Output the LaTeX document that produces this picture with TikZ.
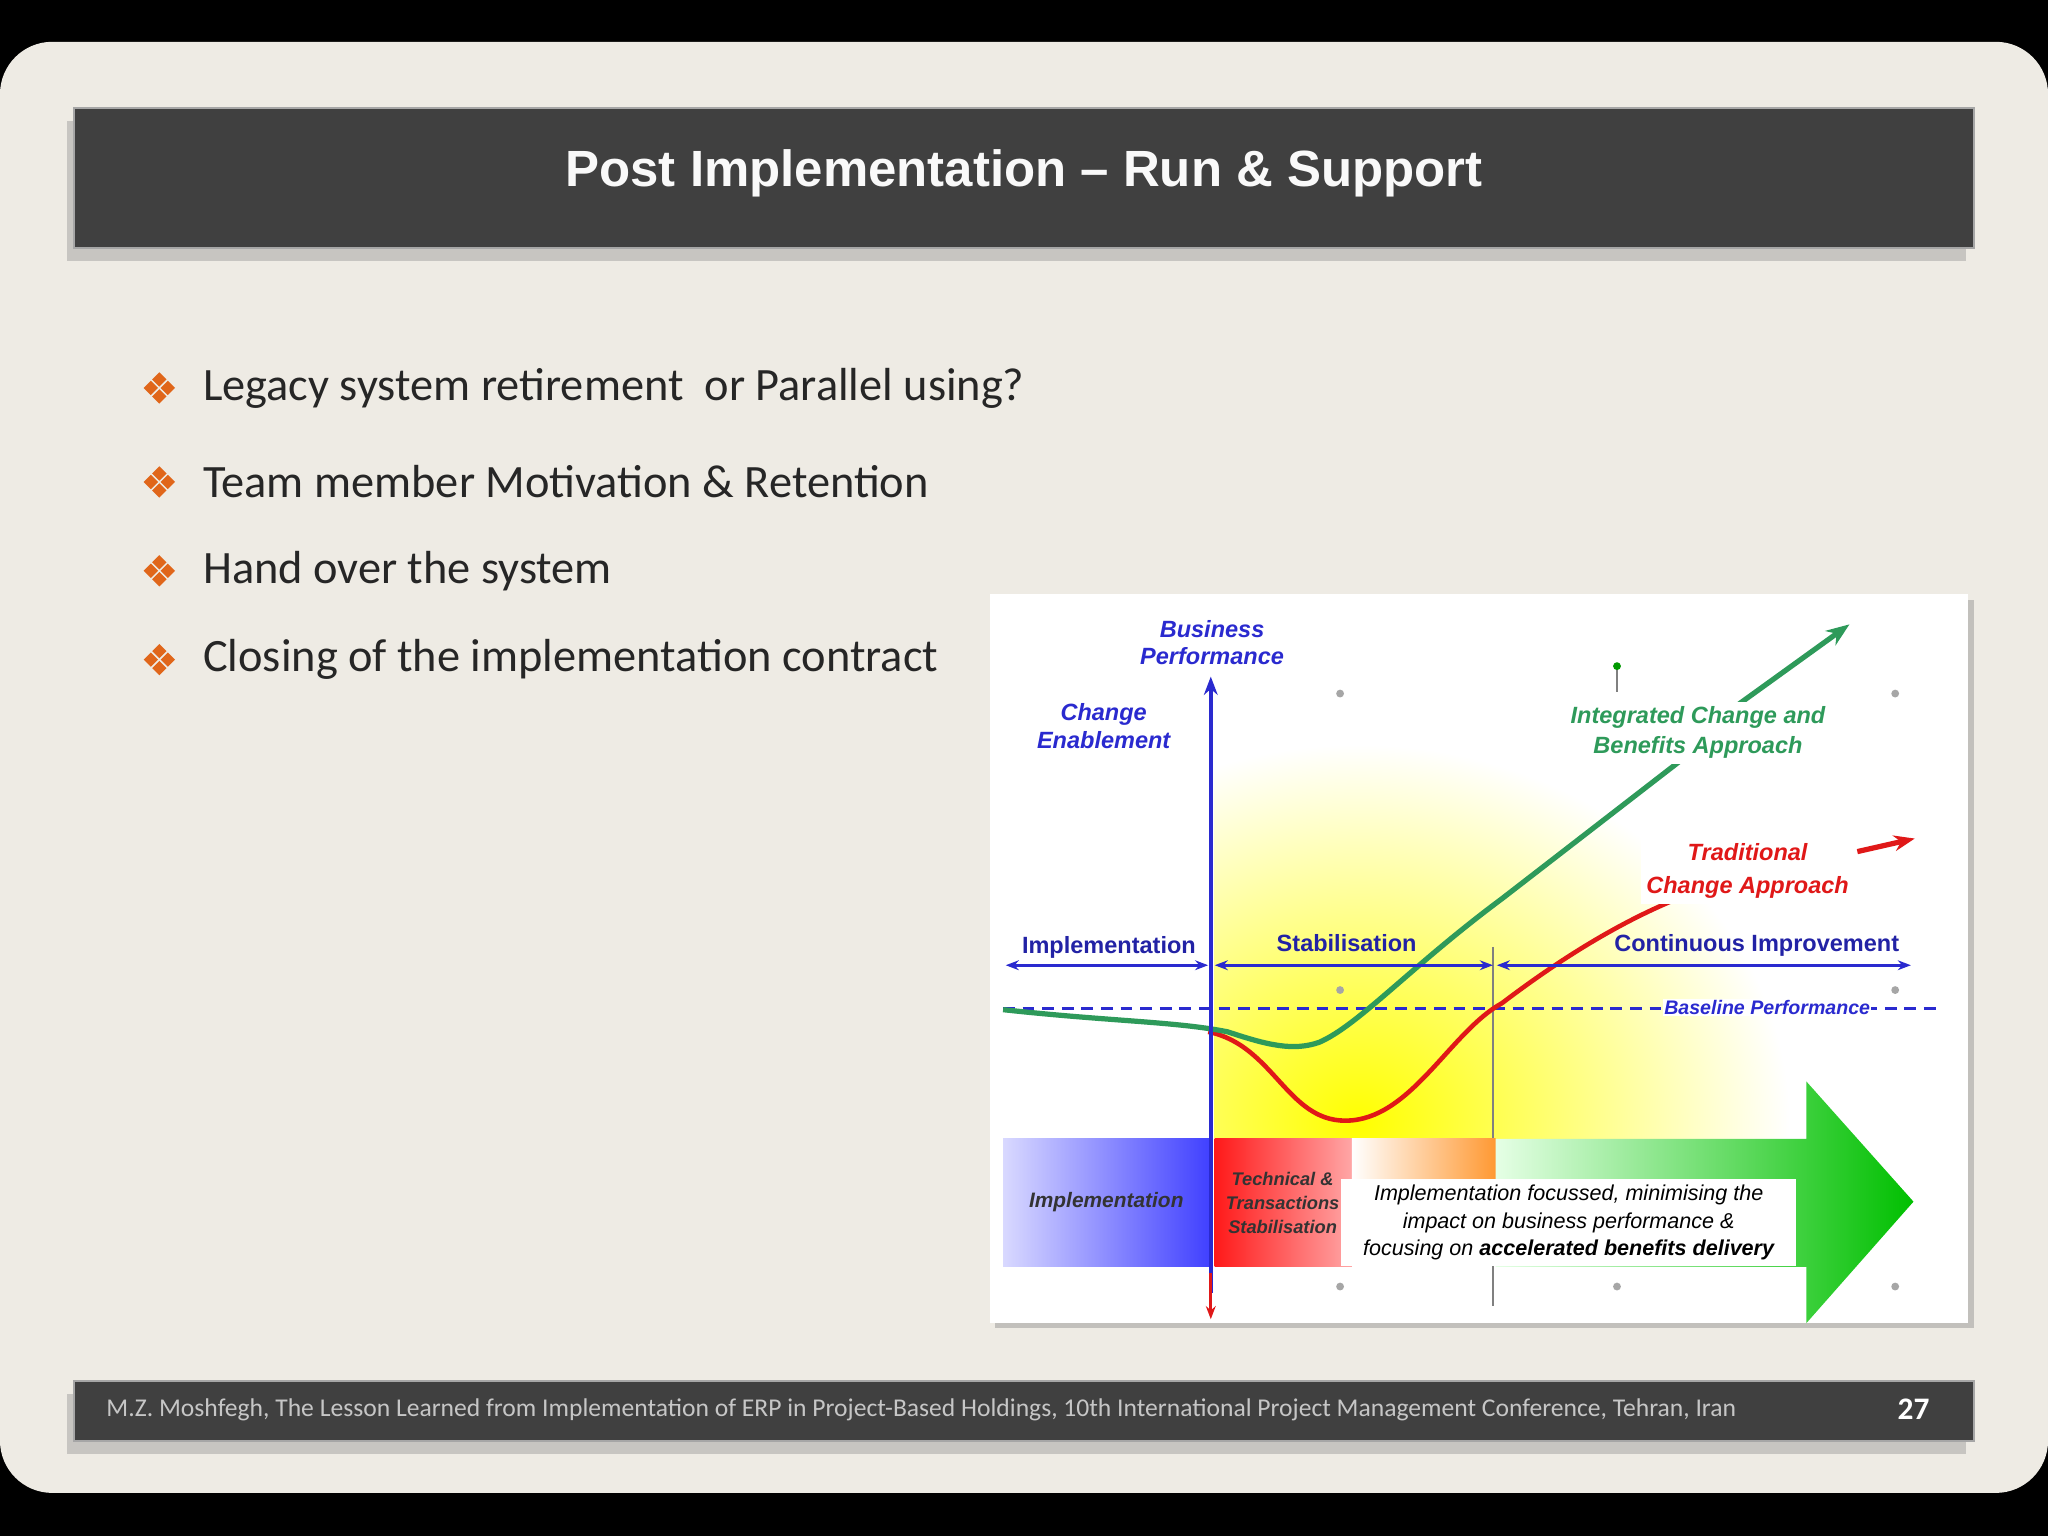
\documentclass[tikz,border=0pt]{standalone}
\usepackage{fontspec}
\setmainfont{Carlito}
\newfontfamily\arialf{Liberation Sans}
\usetikzlibrary{arrows.meta,shadows}
\definecolor{bg}{HTML}{EEEBE4}
\definecolor{bar}{HTML}{404040}
\definecolor{bul}{HTML}{E0661A}
\definecolor{cblue}{HTML}{2A2ACF}
\definecolor{cgreen}{HTML}{2E9A5A}
\definecolor{cred}{HTML}{E01818}
\tikzset{
 barbox/.style={fill=bar,draw=gray!70,line width=1.5pt,drop shadow={shadow xshift=-6pt,shadow yshift=-10pt,opacity=0.35}},
 bullettxt/.style={anchor=west,font=\fontsize{35.5}{40}\selectfont,text=black!85},
 blab/.style={font=\arialf\bfseries\itshape\fontsize{18}{21}\selectfont,text=cblue,align=center},
 stab/.style={font=\arialf\bfseries\fontsize{18}{20}\selectfont,text=cblue!80!black},
 dimarrow/.style={cblue,line width=2pt,{Stealth[length=10pt]}-{Stealth[length=10pt]}},
}
\newcommand{\bulsym}[1]{%
 \foreach \dx/\dy in {0/-6.5,0/6.5,-6.5/0,6.5/0}{\fill[bul] ([shift={(\dx,\dy)}]#1) +(0,-5.5) -- +(5.5,0) -- +(0,5.5) -- +(-5.5,0) -- cycle;}}
\begin{document}
\begin{tikzpicture}[x=1pt,y=-1pt]
\fill[black] (0,0) rectangle (1568,1176);
\fill[bg,rounded corners=40pt] (0,32) rectangle (1568,1143);
% title
\node[barbox,minimum width=1454pt,minimum height=107pt,inner sep=0pt] (title) at (784,136.5) {};
\node[font=\arialf\bfseries\fontsize{39}{42}\selectfont,text=white!95!gray] (tt) at (784,133) {Post Implementation – Run \& Support};
% bullets
\foreach \y/\t [count=\i] in {297/{Legacy system retirement\ \ or Parallel using?},369/{Team member Motivation \& Retention},437/{Hand over the system},505/{Closing of the implementation contract}}{
 \coordinate (b\i) at (122,\y);
 \bulsym{b\i}
 \node[bullettxt] (bt\i) at (152,\y) {\t};
}
% chart frame
\node[fill=white,minimum width=749pt,minimum height=558pt,inner sep=0pt,drop shadow={shadow xshift=4pt,shadow yshift=-4pt,opacity=0.4}] (chart) at (1132.5,734) {};
% yellow glow
\begin{scope}
\clip (930,560) rectangle (1500,872);
\shade[inner color=yellow,outer color=white] (1040,860) ellipse (330 and 290);
\end{scope}
% vertical divider
\draw[gray,line width=1pt] (1143,725) -- (1143,1000);
% bottom band
\shade[left color=blue!15,right color=blue!75] (768,872) rectangle (927,970);
\node[font=\arialf\bfseries\itshape\fontsize{16}{18}\selectfont,text=black!80] (impl2) at (847,920) {Implementation};
\shade[left color=red!90,right color=red!35] (930,872) rectangle (1035,970);
\shade[left color=white,right color=orange!80] (1035,872) rectangle (1145,905);
\shade[left color=green!10,right color=green!75!black] (1145,872) -- (1383,872) -- (1383,828) -- (1465,920) -- (1383,1013) -- (1383,970) -- (1145,970) -- cycle;
\node[fill=white,font=\arialf\itshape\fontsize{16.5}{21}\selectfont,align=center,minimum width=348pt,minimum height=67pt,inner sep=1pt] (note) at (1201,936) {Implementation focussed, minimising the\\impact on business performance \&\\focusing on \textbf{accelerated benefits delivery}};
\begin{scope}
\clip (930,880) rectangle (1027,970);
\node[font=\arialf\bfseries\itshape\fontsize{14}{18}\selectfont,align=center,text=black!80] (tech) at (982,921) {Technical \&\\Transactions\\Stabilisation};
\end{scope}
% baseline
\draw[cblue,dashed,line width=2pt,dash pattern=on 9pt off 6pt] (768,772) -- (1485,772);
\node[fill=white,inner sep=1pt,font=\arialf\bfseries\itshape\fontsize{15}{16}\selectfont,text=cblue] (base) at (1353,771) {Baseline Performance};
% curves
\draw[cred,line width=3.5pt] (925,790) .. controls (975,800) and (985,858) .. (1030,858) .. controls (1080,858) and (1110,790) .. (1150,768) .. controls (1200,730) and (1250,700) .. (1300,682);
\draw[cred,line width=4pt,-{Stealth[length=16pt]}] (1422,652) -- (1466,642);
\draw[cgreen,line width=4pt] (768,773) .. controls (850,782) and (900,782) .. (940,790) .. controls (970,800) and (990,805) .. (1010,798) .. controls (1040,785) and (1080,740) .. (1150,688) -- (1300,572);
\draw[cgreen,line width=4pt,-{Stealth[length=18pt]}] (1330,540) -- (1416,478);
% axis
\draw[cblue,line width=3pt,-{Stealth[length=14pt]}] (927,990) -- (927,518);
\draw[cred,line width=2pt,-{Stealth[length=10pt]}] (927,975) -- (927,1010);
\node[blab] (bp) at (928,492) {Business\\Performance};
\node[blab] (ce) at (845,556) {Change\\Enablement};
% phases
\draw[dimarrow] (770,739) -- (925,739);
\draw[dimarrow] (930,739) -- (1143,739);
\draw[dimarrow] (1146,739) -- (1463,739);
\node[stab] (l1) at (849,725) {Implementation};
\node[stab] (l2) at (1031,722) {Stabilisation};
\node[stab] (l3) at (1345,724) {Continuous Improvement};
% approach labels
\node[fill=white,inner sep=4pt,font=\arialf\bfseries\itshape\fontsize{18}{23}\selectfont,text=cgreen,align=center] (ic) at (1300,561) {Integrated Change and\\Benefits Approach};
\node[fill=white,inner sep=4pt,font=\arialf\bfseries\itshape\fontsize{18}{25}\selectfont,text=cred,align=center] (tc) at (1338,667) {Traditional\\Change Approach};
% handles
\foreach \p in {(1026,531),(1451,531),(1026,985),(1451,985),(1238,985),(1026,758),(1451,758)}{\fill[gray!70] \p circle (3);}
\draw[gray,line width=1pt] (1238,510) -- (1238,530);
\fill[green!60!black] (1238,510) circle (3);
% footer
\node[barbox,minimum width=1454pt,minimum height=46pt,inner sep=0pt] (foot) at (784,1080) {};
\node[anchor=west,font=\fontsize{19.6}{22}\selectfont,text=gray!45] (ft) at (78,1079) {M.Z. Moshfegh, The Lesson Learned from Implementation of ERP in Project-Based Holdings, 10th International Project Management Conference, Tehran, Iran};
\node[font=\bfseries\fontsize{24}{26}\selectfont,text=white] (pg) at (1465,1079) {27};
\end{tikzpicture}
\end{document}
